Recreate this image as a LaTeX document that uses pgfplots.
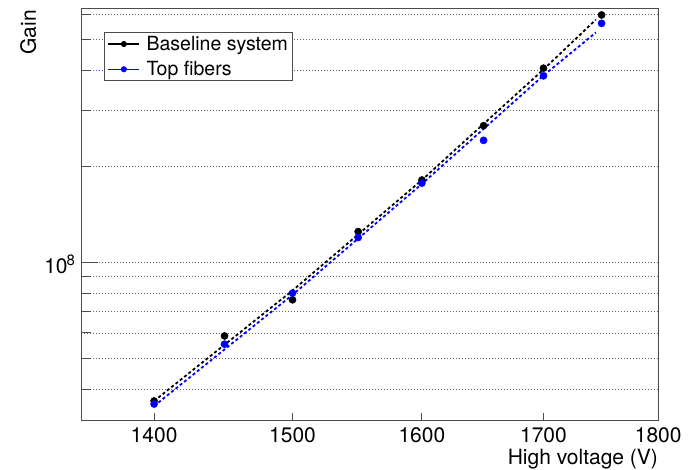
\documentclass[border=0pt]{standalone}
\usepackage{fontspec}
\setmainfont{TeX Gyre Heros}
\usepackage{pgfplots}
\pgfplotsset{compat=1.18}

\begin{document}
\begin{tikzpicture}[x=1pt,y=1pt]
\useasboundingbox (-81,-49) rectangle (609,420);
\begin{axis}[
  at={(0,0)}, anchor=south west,
  width=577pt, height=412pt, scale only axis,
  xmode=log, ymode=log,
  xmin=1350, xmax=1800, ymin=3.2e7, ymax=6.27e8,
  axis line style={draw=black!70, line width=0.9pt},
  font=\fontsize{21}{25}\selectfont,
  xtick={1400,1500,1600,1700,1800},
  xticklabels={1400,1500,1600,1700,1800},
  minor x tick num=0,
  xtick pos=bottom, ytick pos=left,
  tick align=inside,
  major tick length=17pt, minor tick length=10pt,
  xtick style={/pgfplots/major tick length=7pt},
  tick style={black!70, line width=0.9pt},
  xticklabel style={anchor=base, inner sep=0pt, yshift=-23pt},
  ytick={1e8},
  yticklabels={10\kern-1pt\raisebox{8pt}{\fontsize{15}{15}\selectfont 8}},
  yticklabel style={anchor=base east, inner sep=0pt, xshift=-6pt, yshift=-11pt},
  minor ytick={4e7,5e7,6e7,7e7,8e7,9e7,2e8,3e8,4e8,5e8,6e8},
  ymajorgrids, yminorgrids,
  minor grid style={black!60, line width=0.8pt, dash pattern=on 1pt off 2pt},
  major grid style={black!60, line width=0.8pt, dash pattern=on 1pt off 2pt},
  xlabel={High voltage (V)},
  xlabel style={at={(axis description cs:1,-0.107)}, anchor=base east, inner sep=0pt},
  ylabel={Gain},
  ylabel style={at={(axis description cs:-0.092,0.995)}, anchor=east, inner sep=0pt},
  legend style={at={(axis description cs:0.04,0.941)}, anchor=north west,
    draw=black!70, line width=0.8pt, font=\fontsize{19.5}{21}\selectfont,
    inner xsep=3pt, inner ysep=2pt, row sep=6.5pt, column sep=5pt,
    nodes={inner sep=1.5pt}},
  legend cell align=left,
  legend image code/.code={
    \draw[#1, solid, line width=1.4pt] (0pt,0pt) -- (31pt,0pt);
    \fill[#1] (15.5pt,0pt) circle (2.6pt);
  },
]
\addlegendimage{black}
\addlegendentry{Baseline system}
\addlegendimage{blue}
\addlegendentry{Top fibers}

% exponential fits (dashed)
\addplot[black, line width=1.8pt, dash pattern=on 3pt off 2.5pt, no markers, forget plot]
coordinates {(1400,3.67e7) (1500,8.15e7) (1600,1.81e8) (1700,4.02e8) (1745,5.76e8)};
\addplot[blue, line width=1.8pt, dash pattern=on 3pt off 2.5pt, no markers, forget plot]
coordinates {(1400,3.54e7) (1500,7.9e7) (1600,1.76e8) (1700,3.85e8) (1745,5.25e8)};

% measurements
\addplot[black, only marks, mark=*, mark size=3.6pt, forget plot]
coordinates {
  (1400,3.67e7) (1450,5.87e7) (1500,7.62e7) (1550,1.247e8)
  (1600,1.81e8) (1650,2.68e8) (1700,4.06e8) (1750,5.96e8)
};
\addplot[blue, only marks, mark=*, mark size=3.6pt, forget plot]
coordinates {
  (1400,3.59e7) (1450,5.53e7) (1500,8.0e7) (1550,1.195e8)
  (1600,1.77e8) (1650,2.41e8) (1700,3.84e8) (1750,5.61e8)
};
\end{axis}
\end{tikzpicture}
\end{document}
